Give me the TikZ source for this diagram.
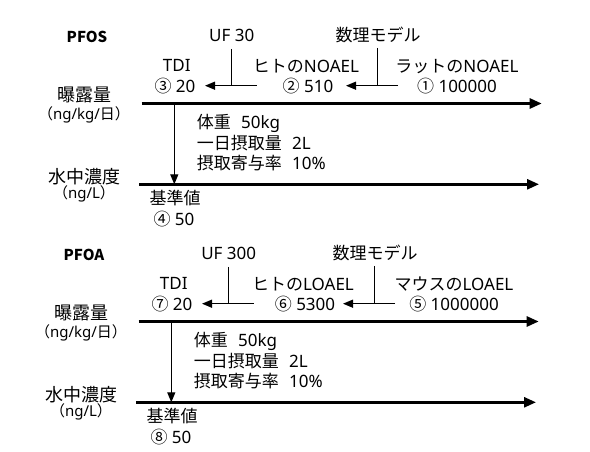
\documentclass[tikz,border=0pt]{standalone}
\usepackage{fontspec}
\setmainfont{Noto Sans}
\newfontfamily\jp{Noto Sans CJK JP}
\usetikzlibrary{arrows.meta}
\tikzset{
  lbl/.style={inner sep=0pt, font=\fontsize{17bp}{20bp}\selectfont},
  biglbl/.style={inner sep=0pt, font=\fontsize{18bp}{22bp}\selectfont\jp},
  unitlbl/.style={inner sep=0pt, font=\fontsize{15bp}{18bp}\selectfont},
  titlelbl/.style={inner sep=0pt, font=\fontsize{15bp}{18bp}\selectfont\jp\bfseries},
  axis/.style={line width=2.6bp, -{Triangle[length=12bp,width=10bp]}},
  thin/.style={line width=1.3bp},
  thinarrow/.style={line width=1.3bp, -{Triangle[length=10bp,width=8bp]}},
}
\newcommand\mypanel[9]{%
  % #1 prefix, #2 title, #3 UF, #4 TDI value, #5 mid label, #6 mid value, #7 right label, #8 right value, #9 standard
  \node[titlelbl] (#1title) at (87,36.7) {#2};
  \node[lbl] (#1uf) at (231.7,35) {#3};
  \node[lbl] (#1model) at (378,35) {\jp 数理モデル};
  \node[lbl] (#1tdi) at (176.7,65.5) {TDI};
  \node[lbl] (#1tdiv) at (175,86) {#4};
  \node[lbl] (#1mid) at (306,66) {#5};
  \node[lbl] (#1midv) at (308,86) {#6};
  \node[lbl] (#1right) at (457,66.5) {#7};
  \node[lbl] (#1rightv) at (457,86) {#8};
  \coordinate (#1ufTop) at (231.7,49);
  \coordinate (#1ufBot) at (231.7,85.7);
  \coordinate (#1aS) at (256.7,85.7);
  \coordinate (#1aE) at (205,85.7);
  \coordinate (#1mTop) at (377.7,48);
  \coordinate (#1mBot) at (377.7,85.7);
  \coordinate (#1bS) at (398,85.7);
  \coordinate (#1bE) at (346,85.7);
  \draw[thin] (#1ufTop) -- (#1ufBot);
  \draw[thinarrow] (#1aS) -- (#1aE);
  \draw[thin] (#1mTop) -- (#1mBot);
  \draw[thinarrow] (#1bS) -- (#1bE);
  \coordinate (#1ax1S) at (141.7,103.5);
  \coordinate (#1ax1E) at (541.7,103.5);
  \coordinate (#1ax2S) at (139,184.3);
  \coordinate (#1ax2E) at (539,184.3);
  \draw[axis] (#1ax1S) -- (#1ax1E);
  \draw[axis] (#1ax2S) -- (#1ax2E);
  \coordinate (#1vS) at (174.3,103.5);
  \coordinate (#1vE) at (174.3,184.3);
  \draw[thinarrow] (#1vS) -- (#1vE);
  \node[biglbl] (#1exp) at (84,95) {曝露量};
  \node[unitlbl] (#1expu) at (84,115) {{\jp （}ng/kg/{\jp 日）}};
  \node[biglbl] (#1conc) at (84,176.7) {水中濃度};
  \node[unitlbl] (#1concu) at (84,194) {{\jp （}ng/L{\jp ）}};
  \node[lbl, anchor=west] (#1p1) at (196.7,123.3) {{\jp 体重}\hspace{0.6em}50kg};
  \node[lbl, anchor=west] (#1p2) at (196.7,143.3) {{\jp 一日摂取量}\hspace{0.6em}2L};
  \node[lbl, anchor=west] (#1p3) at (196.7,163.3) {{\jp 摂取寄与率}\hspace{0.6em}10\%};
  \node[lbl] (#1std) at (175,198.3) {\jp 基準値};
  \node[lbl] (#1stdv) at (174,219.3) {#9};
}
\begin{document}
\begin{tikzpicture}[x=1bp,y=-1bp]
  \useasboundingbox (0,0) rectangle (590,452);
  \mypanel{s}{PFOS}{UF 30}{{\jp ③} 20}{{\jp ヒトの}NOAEL}{{\jp ②} 510}{{\jp ラットの}NOAEL}{{\jp ①} 100000}{{\jp ④} 50}
  \begin{scope}[shift={(-3,218)}]
    \mypanel{a}{PFOA}{UF 300}{{\jp ⑦} 20}{{\jp ヒトの}LOAEL}{{\jp ⑥} 5300}{{\jp マウスの}LOAEL}{{\jp ⑤} 1000000}{{\jp ⑧} 50}
  \end{scope}
\end{tikzpicture}
\end{document}
